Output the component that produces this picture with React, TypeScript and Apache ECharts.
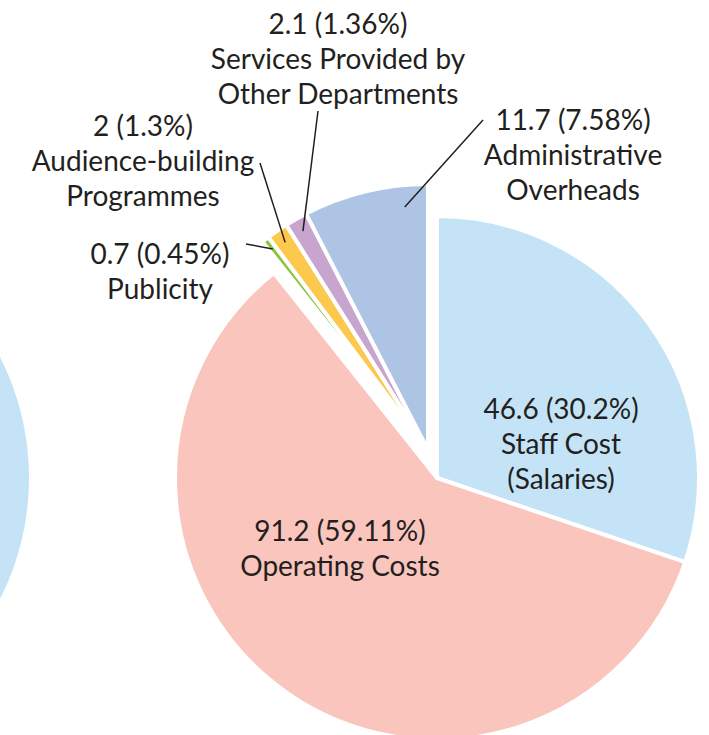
import React, { useEffect, useRef } from 'react';
import * as echarts from 'echarts';

// ---- data ----
const CATEGORIES = [
  'Staff Cost\n(Salaries)',
  'Operating Costs',
  'Publicity',
  'Audience-building\nProgrammes',
  'Services Provided by\nOther Departments',
  'Administrative\nOverheads',
];
const VALUES = [46.6, 91.2, 0.7, 2, 2.1, 11.7];
const EXPLODED = [false, false, true, true, true, true];

// ---- style ----
const COLORS = ['#C5E3F6', '#F9C5BC', '#8CC63F', '#FDC84E', '#C8A5CF', '#ADC4E4'];
const LABEL_CENTERS: [number, number][] = [
  [561, 443],
  [340, 547],
  [160, 270],
  [143, 160],
  [338, 58],
  [573, 154],
];
// where each leader line leaves the label text
const LINE_ENDS: ([number, number] | null)[] = [
  null,
  null,
  [246, 244],
  [260, 163],
  [318, 111],
  [483, 120],
];
// how far into the slice the leader reaches, and where across the slice (0..1)
const LINE_DEPTH = [0, 0, 12, 14, 14, 22];
const LINE_FRAC = [0.5, 0.5, 0.5, 0.5, 0.5, 0.8];
const TEXT_COLOR = '#231F20';
const FONT = 'Lato, "Noto Sans", sans-serif';
const CENTER: [number, number] = [437, 478];
const RADIUS = 262;
const EXPLODE_CENTER: [number, number] = [428, 450];
const EXPLODE_RADIUS = 266;

export default function App() {
  const ref = useRef<HTMLDivElement>(null);
  useEffect(() => {
    if (!ref.current) return;
    const chart = echarts.init(ref.current, null, { renderer: 'svg' });
    const total = VALUES.reduce((a, b) => a + b, 0);
    let acc = 0;
    const anchorAngles = VALUES.map((v, i) => {
      const a = acc + v * LINE_FRAC[i];
      acc += v;
      return (a / total) * Math.PI * 2;
    });
    const leaderLines = VALUES.map((_, i) => {
      const end = LINE_ENDS[i];
      if (!end) return null;
      const r = EXPLODE_RADIUS - LINE_DEPTH[i];
      const a = anchorAngles[i];
      return {
        type: 'line',
        z: 100,
        shape: {
          x1: end[0],
          y1: end[1],
          x2: EXPLODE_CENTER[0] + r * Math.sin(a),
          y2: EXPLODE_CENTER[1] - r * Math.cos(a),
        },
        style: { stroke: TEXT_COLOR, lineWidth: 1.5 },
        silent: true,
      };
    }).filter(Boolean);

    const makeData = (visibleWhenExploded: boolean) =>
      VALUES.map((v, i) => {
        const visible = EXPLODED[i] === visibleWhenExploded;
        return {
          name: CATEGORIES[i],
          value: v,
          itemStyle: visible
            ? { color: COLORS[i], borderColor: '#fff', borderWidth: 4 }
            : { color: 'rgba(0,0,0,0)', borderWidth: 0 },
          label: { show: visible },
        };
      });
    const labelBase = {
      show: true,
      formatter: '{c} ({d}%)\n{b}',
      fontFamily: FONT,
      fontSize: 28,
      lineHeight: 35,
      color: TEXT_COLOR,
      align: 'center',
    };
    const layout = (params: any) => {
      const c = LABEL_CENTERS[params.dataIndex];
      return { x: c[0], y: c[1], align: 'center', verticalAlign: 'middle' };
    };
    chart.setOption({
      animation: false,
      graphic: [
        {
          type: 'circle',
          shape: { cx: -238, cy: 478, r: 267 },
          style: { fill: COLORS[0] },
          z: -1,
        },
        ...leaderLines,
      ],
      series: [
        {
          type: 'pie',
          center: CENTER,
          radius: RADIUS,
          startAngle: 90,
          clockwise: true,
          avoidLabelOverlap: false,
          percentPrecision: 2,
          emphasis: { disabled: true },
          label: { ...labelBase, position: 'inside' },
          labelLine: { show: false },
          labelLayout: layout,
          data: makeData(false),
        },
        {
          type: 'pie',
          center: EXPLODE_CENTER,
          radius: EXPLODE_RADIUS,
          startAngle: 90,
          clockwise: true,
          avoidLabelOverlap: false,
          percentPrecision: 2,
          emphasis: { disabled: true },
          label: { ...labelBase, position: 'outside' },
          labelLine: { show: false },
          labelLayout: layout,
          data: makeData(true),
        },
      ],
    });
    return () => chart.dispose();
  }, []);
  return (
    <div
      ref={ref}
      style={{ position: 'absolute', left: 0, top: 0, width: 709, height: 735, background: '#fff' }}
    />
  );
}
